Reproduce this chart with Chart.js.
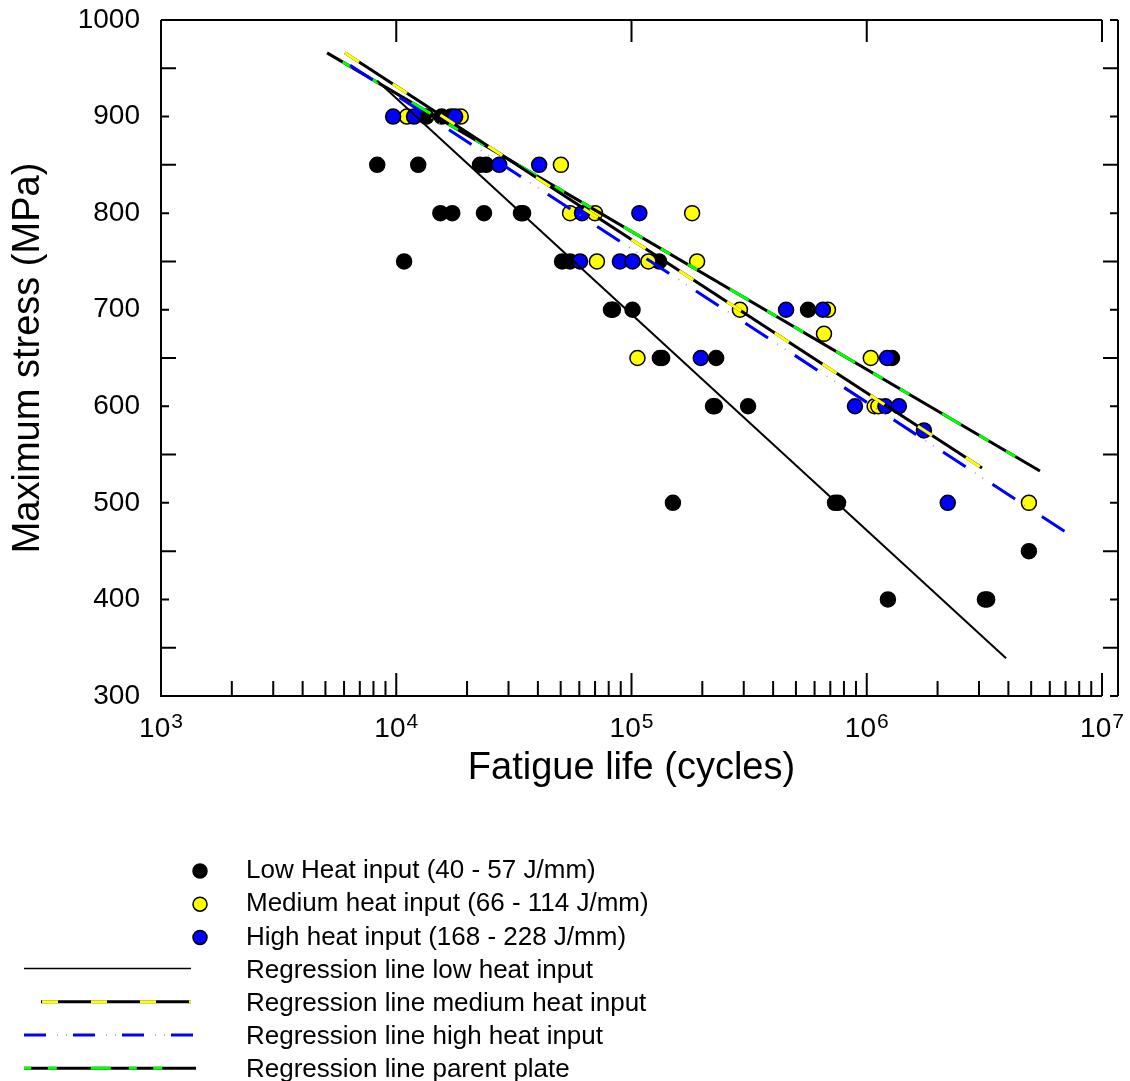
<!DOCTYPE html>
<html>
<head>
<meta charset="utf-8">
<title>Fatigue life</title>
<script src="https://cdn.jsdelivr.net/npm/chart.js@4.4.1/dist/chart.umd.min.js"></script>
<style>
  body { margin: 0; background: #fff; }
  canvas { display: block; }
</style>
</head>
<body>
<canvas id="fatigue" width="1130" height="1081"></canvas>
<script>
//measured points, fatigue life (cycles) and maximum stress (MPa)
var lowLife = [13400, 15600, 17100, 8300, 12400, 22700, 24100, 15400, 17300, 23600, 33900, 34600, 10800, 50700, 54800, 131000, 81800, 83400, 101000, 563000, 132000, 135000, 229000, 1280000, 222000, 226000, 313000, 150000, 733000, 755000, 4890000, 1230000, 3180000, 3250000];
var lowStress = [900, 900, 900, 850, 850, 850, 850, 800, 800, 800, 800, 800, 750, 750, 750, 750, 700, 700, 700, 700, 650, 650, 650, 650, 600, 600, 600, 500, 500, 500, 450, 400, 400, 400];

var medLife = [11100, 18800, 50100, 54800, 70000, 181000, 71300, 118000, 190000, 289000, 684000, 658000, 106000, 1040000, 1080000, 1120000, 4890000];
var medStress = [900, 900, 850, 800, 800, 800, 750, 750, 750, 700, 700, 675, 650, 650, 600, 600, 500];

var highLife = [9700, 11900, 17800, 27400, 40500, 61600, 108000, 60400, 89300, 101000, 454000, 651000, 197000, 1220000, 891000, 1200000, 1370000, 1750000, 2210000];
var highStress = [900, 900, 900, 850, 850, 800, 800, 750, 750, 750, 700, 700, 650, 650, 600, 600, 600, 575, 500];

//regression line end points
var lowFitLife = [8300, 3910000], lowFitStress = [937, 339];
var medFitLife = [6050, 3090000], medFitStress = [966, 536];
var highFitLife = [5770, 7180000], highFitStress = [960, 468];
var parentFitLife = [5080, 5450000], parentFitStress = [966, 533];

//axes
var xDecades = [1e3, 1e4, 1e5, 1e6, 1e7];
var xExponents = ['3', '4', '5', '6', '7'];
var yMin = 300, yMax = 1000;

var legendLabels = [
    'Low Heat input (40 - 57 J/mm)',
    'Medium heat input (66 - 114 J/mm)',
    'High heat input (168 - 228 J/mm)',
    'Regression line low heat input',
    'Regression line medium heat input',
    'Regression line high heat input',
    'Regression line parent plate'
];

var FONT = "'Liberation Sans', Arial, Helvetica, sans-serif";
Chart.defaults.font.family = FONT;
Chart.defaults.color = '#000';

//pair up x and y arrays
function pts( xs, ys ){
    var out = [];
    for( var i = 0; i < xs.length; i++ )
        out.push( {x: xs[i], y: ys[i]} );
    return out;
}

function fitLine( xs, ys, color, width, dash, offset, order ){
    return {
        data: pts( xs, ys ),
        showLine: true,
        pointRadius: 0,
        borderColor: color,
        borderWidth: width,
        borderDash: dash || [],
        borderDashOffset: offset || 0,
        fill: false,
        order: order
    };
}

function dots( xs, ys, fill, order ){
    return {
        data: pts( xs, ys ),
        pointRadius: 7.5,
        pointHoverRadius: 7.5,
        backgroundColor: fill,
        borderColor: '#000',
        borderWidth: 1.5,
        order: order
    };
}

//frame, ticks and x labels drawn the SigmaPlot way (ticks inward)
var axesPlugin = {
    id: 'sigmaAxes',
    afterDatasetsDraw: function( chart ){
        var ctx = chart.ctx, a = chart.chartArea,
            xs = chart.scales.x, ys = chart.scales.y;
        var rx = a.right + 16;

        ctx.save();
        ctx.strokeStyle = '#000';
        ctx.lineWidth = 2;
        ctx.beginPath();
        ctx.moveTo( a.left, a.top ); ctx.lineTo( a.left, a.bottom ); ctx.lineTo( a.right, a.bottom );
        ctx.moveTo( a.left, a.top ); ctx.lineTo( a.right, a.top );
        ctx.moveTo( rx, a.top ); ctx.lineTo( rx, a.bottom );

        //stress ticks, left and offset right axis
        for( var v = yMin; v <= yMax; v += 50 ){
            var py = ys.getPixelForValue( v ),
                len = v % 100 === 0 ? 8 : 15;
            ctx.moveTo( a.left, py ); ctx.lineTo( a.left + len, py );
            ctx.moveTo( rx, py ); ctx.lineTo( rx - len, py );
        }

        //life ticks
        for( var i = 0; i < xDecades.length; i++ ){
            var d = xDecades[i], px = xs.getPixelForValue( d );
            ctx.moveTo( px, a.bottom ); ctx.lineTo( px, a.bottom - 23 );
            ctx.moveTo( px, a.top ); ctx.lineTo( px, a.top + 22 );
            if( i < xDecades.length - 1 ){
                for( var k = 2; k < 10; k++ ){
                    var mx = xs.getPixelForValue( k * d );
                    ctx.moveTo( mx, a.bottom ); ctx.lineTo( mx, a.bottom - 15 );
                }
            }
        }
        ctx.stroke();

        //decade labels 10^n
        ctx.fillStyle = '#000';
        ctx.textBaseline = 'alphabetic';
        ctx.textAlign = 'left';
        for( var j = 0; j < xDecades.length; j++ ){
            var cx = xs.getPixelForValue( xDecades[j] );
            ctx.font = '28px ' + FONT;
            var w1 = ctx.measureText( '10' ).width;
            ctx.font = '21px ' + FONT;
            var w2 = ctx.measureText( xExponents[j] ).width;
            var x0 = cx - (w1 + w2 + 1) / 2;
            ctx.font = '28px ' + FONT;
            ctx.fillText( '10', x0, a.bottom + 41 );
            ctx.font = '21px ' + FONT;
            ctx.fillText( xExponents[j], x0 + w1 + 1, a.bottom + 32 );
        }
        ctx.restore();
    }
};

//legend below the plot
var legendPlugin = {
    id: 'sigmaLegend',
    afterDraw: function( chart ){
        var ctx = chart.ctx;
        var y0 = 871, step = 33.2, tx = 246, mx = 200;

        ctx.save();
        ctx.font = '26px ' + FONT;
        ctx.fillStyle = '#000';
        ctx.textBaseline = 'middle';
        ctx.textAlign = 'left';
        for( var i = 0; i < legendLabels.length; i++ )
            ctx.fillText( legendLabels[i], tx, y0 + i * step );

        //markers
        var fills = ['#000000', '#ffff00', '#0000ff'];
        for( var m = 0; m < 3; m++ ){
            ctx.beginPath();
            ctx.arc( mx, y0 + m * step, 7, 0, Math.PI * 2 );
            ctx.fillStyle = fills[m];
            ctx.fill();
            ctx.lineWidth = 1.5;
            ctx.strokeStyle = '#000';
            ctx.stroke();
        }

        function seg( x1, x2, y, color, width, dash, offset ){
            ctx.beginPath();
            ctx.setLineDash( dash || [] );
            ctx.lineDashOffset = offset || 0;
            ctx.strokeStyle = color;
            ctx.lineWidth = width;
            ctx.moveTo( x1, y ); ctx.lineTo( x2, y );
            ctx.stroke();
        }

        var ly = y0 + 3 * step - 2;
        seg( 24, 191, ly, '#000', 1.5 );

        ly += step;
        seg( 41, 191, ly, '#000', 3 );
        seg( 42, 191, ly, '#ffff00', 3, [16, 33] );

        ly += step;
        seg( 24, 196, ly, '#0000ff', 3, [22, 27] );
        seg( 24, 196, ly, '#9090ff', 1.5, [1, 8, 1, 39], 16 );

        ly += step;
        seg( 24, 196, ly, '#000', 3 );
        seg( 24, 196, ly, '#00ff00', 3, [20, 18, 8, 16.5, 9, 34], 38.7 );
        ctx.restore();
    }
};

//keep the plot box where the original puts it
function noEdgePadding( scale ){
    scale.paddingTop = 0;
    scale.paddingBottom = 0;
    scale.paddingLeft = 0;
    scale.paddingRight = 0;
}

var chart = new Chart( document.getElementById('fatigue').getContext('2d'), {
    type: 'scatter',
    data: {
        datasets: [
            fitLine( lowFitLife, lowFitStress, '#000', 2, null, 0, 0 ),
            fitLine( highFitLife, highFitStress, '#0000ff', 3, [27, 32], 47, 1 ),
            fitLine( highFitLife, highFitStress, '#8a8aff', 1.5, [1, 8, 1, 49], 9, 2 ),
            fitLine( medFitLife, medFitStress, '#ffff00', 3, [17, 40], 0, 3 ),
            fitLine( medFitLife, medFitStress, '#000', 3, null, 0, 4 ),
            fitLine( parentFitLife, parentFitStress, '#00ff00', 3, [22, 21, 11, 20, 11, 38], 25, 5 ),
            fitLine( parentFitLife, parentFitStress, '#000', 3, null, 0, 6 ),
            dots( highLife, highStress, '#0000ff', 7 ),
            dots( medLife, medStress, '#ffff00', 8 ),
            dots( lowLife, lowStress, '#000000', 9 )
        ]
    },
    options: {
        responsive: false,
        animation: false,
        layout: { padding: { left: 0, right: 28, top: 20, bottom: 265 } },
        plugins: {
            legend: { display: false },
            tooltip: { enabled: false }
        },
        scales: {
            x: {
                type: 'logarithmic',
                min: 1e3,
                max: 1e7,
                grid: { display: false, drawTicks: false },
                border: { display: false },
                ticks: { display: false },
                title: {
                    display: true,
                    text: 'Fatigue life (cycles)',
                    font: { size: 38 },
                    color: '#000',
                    padding: { top: 0, bottom: 25 }
                },
                afterFit: function( scale ){ scale.height = 120; noEdgePadding( scale ); }
            },
            y: {
                min: yMin,
                max: yMax,
                grid: { display: false, drawTicks: false },
                border: { display: false },
                ticks: {
                    stepSize: 100,
                    font: { size: 28 },
                    color: '#000',
                    padding: 21,
                    callback: function( value ){ return String( value ); }
                },
                title: {
                    display: true,
                    text: 'Maximum stress (MPa)',
                    font: { size: 38 },
                    color: '#000',
                    padding: { top: 6, bottom: 0 }
                },
                afterFit: function( scale ){ scale.width = 161; noEdgePadding( scale ); }
            }
        }
    },
    plugins: [ axesPlugin, legendPlugin ]
});
</script>
</body>
</html>
